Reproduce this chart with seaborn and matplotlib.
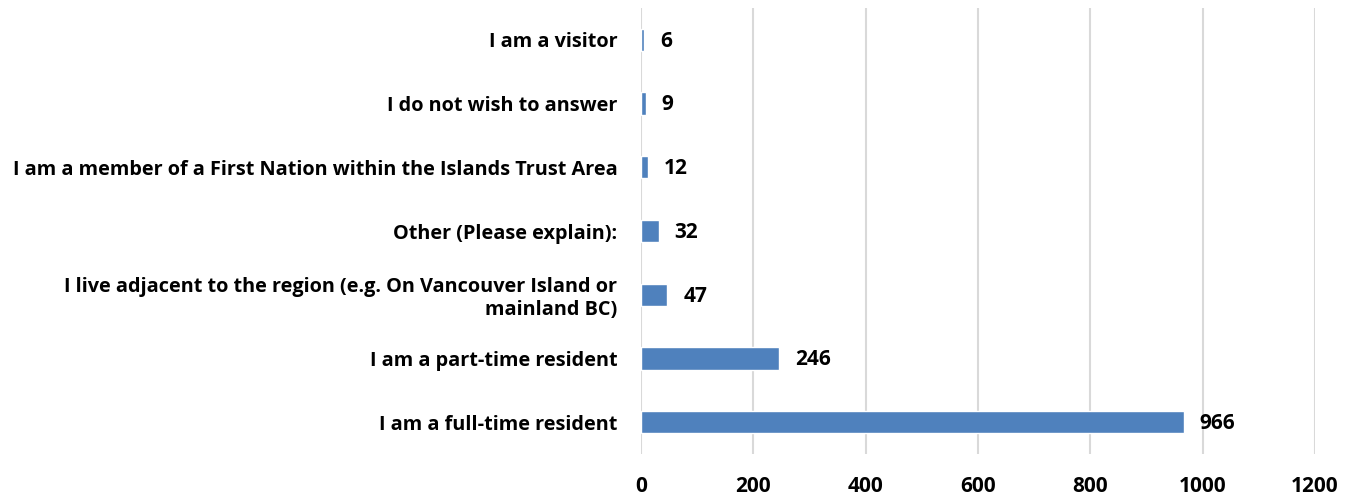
import matplotlib
matplotlib.use("Agg")
import matplotlib.pyplot as plt
import seaborn as sns
import pandas as pd

categories = [
    "I am a visitor",
    "I do not wish to answer",
    "I am a member of a First Nation within the Islands Trust Area",
    "Other (Please explain):",
    "I live adjacent to the region (e.g. On Vancouver Island or\nmainland BC)",
    "I am a part-time resident",
    "I am a full-time resident",
]
values = [6, 9, 12, 32, 47, 246, 966]
xticks = [0, 200, 400, 600, 800, 1000, 1200]

sns.set_theme(style="white")
plt.rcParams['font.family'] = ['Open Sans', 'DejaVu Sans']

df = pd.DataFrame({"cat": categories, "val": values})

fig = plt.figure(figsize=(13.59, 4.99), dpi=100)
ax = fig.add_axes([0.4717, 0.09, 0.4959, 0.894])
sns.barplot(data=df, y="cat", x="val", orient="h", color="#4F81BD",
            saturation=1, width=0.35, ax=ax)

ax.set_xlim(0, 1200)
ax.set_xticks(xticks)
ax.set_xticklabels([str(t) for t in xticks], fontsize=15, fontweight="bold")
ax.set_xlabel("")
ax.set_ylabel("")
ax.tick_params(axis="y", length=0, pad=17, labelsize=14.3)
ax.tick_params(axis="x", length=0, pad=16)
for lbl in ax.get_yticklabels():
    lbl.set_fontweight("bold")
    lbl.set_color("#000000")
for lbl in ax.get_xticklabels():
    lbl.set_color("#000000")

ax.grid(axis="x", color="#D9D9D9", linewidth=1.5)
ax.set_axisbelow(True)
for s in ax.spines.values():
    s.set_visible(False)

for i, v in enumerate(values):
    ax.text(v + 28, i + 0.02, str(v), va="center", ha="left", fontsize=15,
            fontweight="bold", color="#000000")

fig.savefig("out.png", dpi=100)
